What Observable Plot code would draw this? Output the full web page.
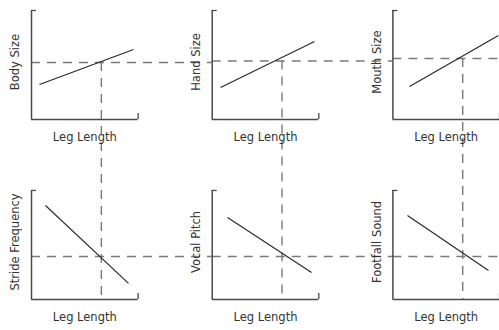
<!DOCTYPE html>
<html>
<head>
<meta charset="utf-8">
<script src="https://cdn.jsdelivr.net/npm/d3@7"></script>
<script src="https://cdn.jsdelivr.net/npm/@observablehq/plot@0.6"></script>
<style>
  html, body { margin: 0; padding: 0; background: #fff; }
  #chart { width: 499px; height: 330px; }
</style>
</head>
<body>
<div id="chart"></div>
<script>
// ---- data (schematic relationships; unitless 0–10 scales) ----
const traits      = ["Body Size", "Hand Size", "Mouth Size", "Stride Frequency", "Vocal Pitch", "Footfall Sound"];
const panelCol    = [0, 1, 2, 0, 1, 2];
const panelRow    = [0, 0, 0, 1, 1, 1];
const xLabel      = "Leg Length";
const lineStartX  = [0.75, 0.78, 1.56, 1.31, 1.44, 1.37];
const lineStartY  = [3.21, 2.94, 3.03, 8.62, 7.52, 7.71];
const lineEndX    = [9.57, 9.60, 9.90, 9.10, 9.32, 8.97];
const lineEndY    = [6.42, 7.16, 7.71, 1.47, 2.48, 2.66];
const legLengthRef = 6.55;                              // vertical dashed reference
const traitRef    = [5.23, 5.37, 5.60, 3.94, 3.94, 3.94]; // horizontal dashed reference

// ---- layout ----
const W = 499, H = 330;
const mL = 31, mR = 0, mT = 10, mB = 31;
const fxPad = 0.41, fyPad = 0.394;
const nCols = 3, nRows = 2;
const span = 10;
const colStep = (W - mL - mR) / (nCols - fxPad), colBand = colStep * (1 - fxPad);
const rowStep = (H - mT - mB) / (nRows - fyPad), rowBand = rowStep * (1 - fyPad);
const colStepUnits = colStep / colBand * span;   // distance to next column's axis, in x units
const rowStepUnits = rowStep / rowBand * span;   // distance to next row's axis, in y units
const capX = 5 / colBand * span, capY = 6 / rowBand * span;

const panels = traits.map((t, i) => ({
  trait: t, col: panelCol[i], row: panelRow[i],
  x1: lineStartX[i], y1: lineStartY[i], x2: lineEndX[i], y2: lineEndY[i],
  h: traitRef[i]
}));
const topPanels = panels.filter(d => d.row === 0);

const axisColor = "#4a4a4a", dashColor = "#7a7a7a", lineColor = "#262626";
const dash = "9,7";
const F = {fx: "col", fy: "row"};

const chart = Plot.plot({
  width: W, height: H,
  marginLeft: mL, marginRight: mR, marginTop: mT, marginBottom: mB,
  style: {fontFamily: "'DejaVu Sans', sans-serif", fontSize: "11.5px", color: "#333", background: "#fff"},
  x: {domain: [0, span], axis: null},
  y: {domain: [0, span], axis: null},
  fx: {domain: [0, 1, 2], axis: null, paddingInner: fxPad, paddingOuter: 0, round: false},
  fy: {domain: [0, 1], axis: null, paddingInner: fyPad, paddingOuter: 0, round: false},
  marks: [
    // horizontal dashed reference (runs on across the gap to the next panel)
    Plot.ruleY(panels, {...F, y: "h", x1: 0, x2: d => d.col < nCols - 1 ? colStepUnits : span, stroke: dashColor, strokeWidth: 1.4, strokeDasharray: dash}),
    // vertical dashed reference, from the top panel's crossing down to the lower panel's axis
    Plot.ruleX(topPanels, {...F, x: legLengthRef, y1: "h", y2: -rowStepUnits, stroke: dashColor, strokeWidth: 1.4, strokeDasharray: dash}),
    // bracket-style axes
    Plot.ruleX(panels, {...F, x: 0, y1: 0, y2: span, stroke: axisColor, strokeWidth: 1.5}),
    Plot.ruleY(panels, {...F, y: 0, x1: 0, x2: span, stroke: axisColor, strokeWidth: 1.5}),
    Plot.ruleY(panels, {...F, y: span, x1: 0, x2: capX, stroke: axisColor, strokeWidth: 1.3}),
    Plot.ruleX(panels, {...F, x: span, y1: 0, y2: capY, stroke: axisColor, strokeWidth: 1.3}),
    // relationship lines
    Plot.link(panels, {...F, x1: "x1", y1: "y1", x2: "x2", y2: "y2", stroke: lineColor, strokeWidth: 1.1}),
    // axis labels
    Plot.text(panels, {...F, text: "trait", frameAnchor: "left", rotate: -90, dx: -16, dy: -3, textAnchor: "middle", lineAnchor: "middle", fill: "#333", fontSize: 11.5}),
    Plot.text(panels, {...F, text: d => xLabel, frameAnchor: "bottom", dy: 18, lineAnchor: "middle", fill: "#333", fontSize: 11.5})
  ]
});
document.getElementById("chart").appendChild(chart);
</script>
</body>
</html>
